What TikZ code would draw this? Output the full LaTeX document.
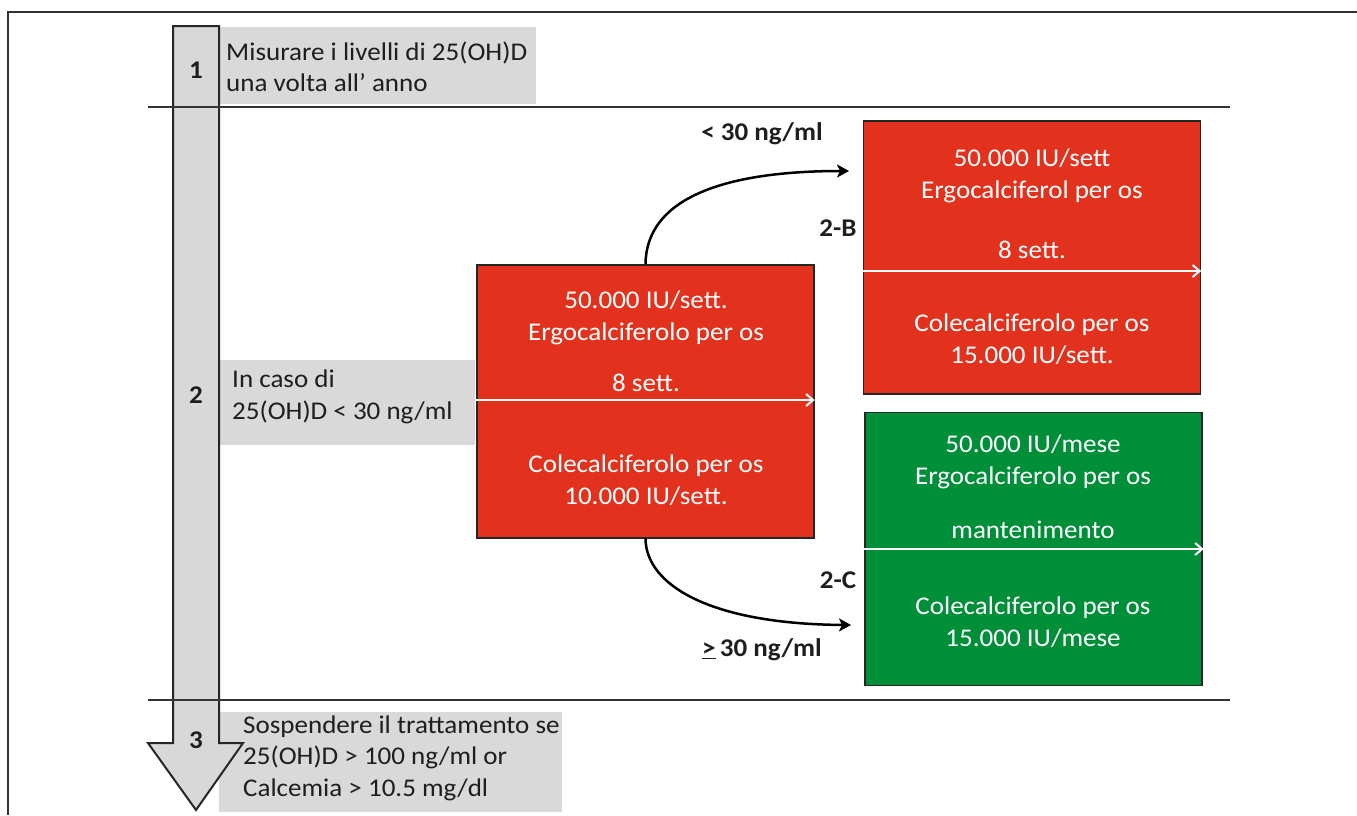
\documentclass[tikz,border=0pt]{standalone}
\usepackage{fontspec}
\setmainfont{Carlito}[FakeStretch=1.06]
\usetikzlibrary{arrows.meta,calc}
\definecolor{redbox}{RGB}{226,50,30}
\definecolor{greenbox}{RGB}{0,143,57}
\definecolor{graybox}{RGB}{217,217,218}
\definecolor{shaftgray}{RGB}{216,216,216}
\definecolor{ink}{RGB}{30,30,30}
\begin{document}
\begin{tikzpicture}[x=1pt,y=-1pt,
  every node/.style={font=\fontsize{25.5}{31.5}\selectfont, text=ink, inner sep=0pt},
  grayrect/.style={fill=graybox, draw=none, anchor=north west},
  lefttext/.style={anchor=west, align=left},
  boxtext/.style={align=center, text=white},
  drugbox/.style={draw=black!85, line width=1.3pt, minimum width=337pt, minimum height=273pt},
  stepnum/.style={font=\fontsize{25.5}{30}\selectfont\bfseries},
  boldlabel/.style={font=\fontsize{25.5}{30}\selectfont\bfseries},
  divider/.style={draw=black!80, line width=1.5pt},
  whitearr/.style={draw=white, line width=2pt, -{Straight Barb[length=7pt,width=12pt,line width=2pt]}},
  curvearr/.style={draw=black, line width=2.5pt, -{Stealth[length=12pt,width=13pt,inset=3pt]}}
]
\useasboundingbox (0,0) rectangle (1357,815);
% outer frame
\draw[divider] (8,815) -- (8,12) -- (1357,12);
% gray label boxes
\node[grayrect, minimum width=317pt, minimum height=77pt] (g1) at (219,27) {};
\node[grayrect, minimum width=256pt, minimum height=85pt] (g2) at (219,360) {};
\node[grayrect, minimum width=343pt, minimum height=100pt] (g3) at (219,712) {};
% big arrow
\draw[fill=shaftgray, draw=black!85, line width=2pt, line join=miter]
  (173,26) -- (219,26) -- (219,743) -- (243,743) -- (196,810) -- (148,743) -- (173,743) -- cycle;
% dividers
\coordinate (d1a) at (148,107); \coordinate (d1b) at (1230,107);
\coordinate (d2a) at (148,700); \coordinate (d2b) at (1230,700);
\draw[divider] (d1a) -- (d1b);
\draw[divider] (d2a) -- (d2b);
% step numbers
\node[stepnum] (n1) at (196,70) {1};
\node[stepnum] (n2) at (196,395) {2};
\node[stepnum] (n3) at (196,740) {3};
% gray texts
\node[lefttext] (t1) at (226,67) {Misurare i livelli di 25(OH)D\\una volta all’ anno};
\node[lefttext] (t2) at (232,397) {In caso di\\25(OH)D < 30 ng/ml};
\node[lefttext] (t3) at (243,758) {Sospendere il trattamento se\\25(OH)D > 100 ng/ml or\\Calcemia > 10.5 mg/dl};
% drug boxes
\node[drugbox, fill=redbox] (r1) at (645.5,401.5) {};
\node[drugbox, fill=redbox] (r2) at (1032,257.5) {};
\node[drugbox, fill=greenbox] (gr) at (1033.5,549) {};
% box texts
\node[boxtext] (r1a) at (646,318) {50.000 IU/sett.\\Ergocalciferolo per os};
\node[boxtext] (r1b) at (646,383) {8 sett.};
\node[boxtext] (r1c) at (646,480) {Colecalciferolo per os\\10.000 IU/sett.};
\node[boxtext] (r2a) at (1032,176) {50.000 IU/sett\\Ergocalciferol per os};
\node[boxtext] (r2b) at (1032,250) {8 sett.};
\node[boxtext] (r2c) at (1032,339) {Colecalciferolo per os\\15.000 IU/sett.};
\node[boxtext] (gra) at (1033,462) {50.000 IU/mese\\Ergocalciferolo per os};
\node[boxtext] (grb) at (1033,530) {mantenimento};
\node[boxtext] (grc) at (1033,622) {Colecalciferolo per os\\15.000 IU/mese};
% white arrows
\draw[whitearr] ($(r1.west)+(0,-1.5)$) -- ($(r1.east)+(0,-1.5)$);
\draw[whitearr] ($(r2.west)+(0,13.5)$) -- ($(r2.east)+(0,13.5)$);
\draw[whitearr] (gr.west) -- ($(gr.east)+(1,0)$);
% curved connectors
\coordinate (c1) at (849,171);
\coordinate (c2) at (851,625);
\draw[curvearr] (r1.north) .. controls (646,200) and (720,171) .. (c1);
\draw[curvearr] (r1.south) .. controls (646,585) and (710,624) .. (c2);
% labels
\node[boldlabel] (l1) at (762,134) {< 30 ng/ml};
\node[boldlabel] (l2) at (838,228) {2-B};
\node[boldlabel] (l3) at (838,580) {2-C};
\node[boldlabel] (l4) at (762,650) {\underline{>}\,30 ng/ml};
\end{tikzpicture}
\end{document}
